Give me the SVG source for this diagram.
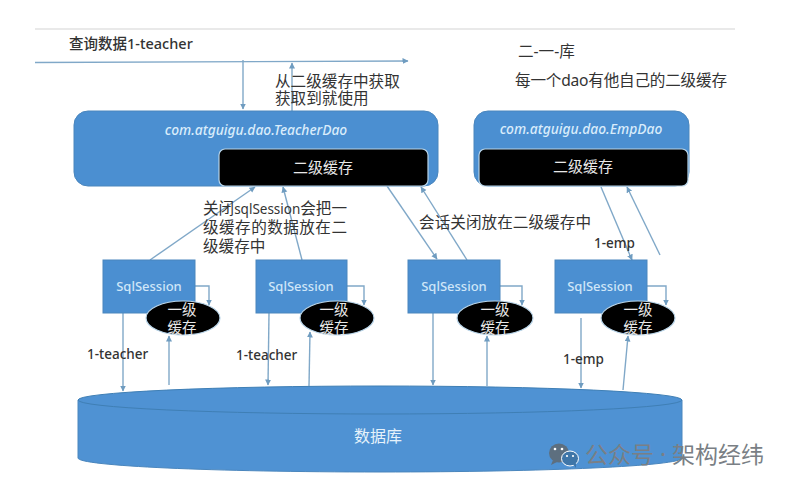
<svg xmlns="http://www.w3.org/2000/svg" width="790" height="487" viewBox="0 0 790 487">
<style>
text{font-family:"Noto Sans","Noto Sans CJK SC",sans-serif;}
.t{font-size:15.6px;fill:#333;}
.l{font-size:13.5px;fill:#333;font-weight:500;}
.c{font-size:13.8px;fill:#d9ecfb;font-style:italic;font-weight:500;text-anchor:middle;}
.w{font-size:15px;fill:#e8e8e8;text-anchor:middle;}
.e{font-size:14.5px;fill:#e8e8e8;text-anchor:middle;}
.s{font-size:13px;fill:#cfe6f8;text-anchor:middle;font-weight:500;}
.blue{fill:#4b8fd1;stroke:#4a86bd;stroke-width:1;}
.blk{fill:#000;stroke:#b8d4e8;stroke-width:1.2;}
.ln{fill:none;stroke:#80a8c8;stroke-width:1.4;marker-end:url(#a);}
</style>
<defs>
<marker id="a" markerWidth="7" markerHeight="7" refX="5.500" refY="3" orient="auto" markerUnits="userSpaceOnUse"><path d="M0,0L6,3L0,6Z" fill="#6f9cc0"/></marker>
</defs>
<rect width="790" height="487" fill="#fff"/>
<line x1="35" y1="29" x2="735" y2="29" stroke="#e2e2e2" stroke-width="1.5"/>
<g id="connectors">
<line class="ln" x1="35" y1="62.500" x2="408" y2="61"/>
<line class="ln" x1="243" y1="60" x2="243" y2="109"/>
<line class="ln" x1="292" y1="111" x2="292" y2="63"/>
<line class="ln" x1="150" y1="260" x2="255" y2="187"/>
<line class="ln" x1="302" y1="260" x2="283" y2="187"/>
<line class="ln" x1="387" y1="186" x2="437" y2="259"/>
<line class="ln" x1="467" y1="260" x2="421" y2="187"/>
<line class="ln" x1="601" y1="187" x2="632" y2="260"/>
<line class="ln" x1="660" y1="255" x2="627" y2="187"/>
<path class="ln" d="M195 286H209V305"/>
<path class="ln" d="M347 286H364V305"/>
<path class="ln" d="M500 286H522V305"/>
<path class="ln" d="M647 286H666V305"/>
<line class="ln" x1="123" y1="313" x2="123" y2="391"/>
<line class="ln" x1="169" y1="385" x2="169" y2="336"/>
<line class="ln" x1="269" y1="313" x2="268" y2="385"/>
<line class="ln" x1="309" y1="386" x2="310" y2="332"/>
<line class="ln" x1="433" y1="313" x2="433" y2="385"/>
<line class="ln" x1="487" y1="386" x2="487" y2="336"/>
<line class="ln" x1="581" y1="318" x2="581" y2="388"/>
<line class="ln" x1="623" y1="390" x2="628" y2="336"/>
</g>
<g id="teacher-dao">
<rect class="blue" x="74" y="111" width="364" height="75" rx="14"/>
<text class="c" x="256" y="135">com.atguigu.dao.TeacherDao</text>
</g>
<g id="teacher-cache">
<rect class="blk" x="219" y="149" width="209" height="37" rx="6"/>
<text class="w" x="323" y="173">二级缓存</text>
</g>
<g id="emp-dao">
<rect class="blue" x="474" y="111" width="215" height="75" rx="14"/>
<text class="c" x="581" y="134">com.atguigu.dao.EmpDao</text>
</g>
<g id="emp-cache">
<rect class="blk" x="479" y="149" width="209" height="37" rx="6"/>
<text class="w" x="583" y="172">二级缓存</text>
</g>
<g id="session-1">
<rect class="blue" x="103" y="260" width="92" height="53"/>
<text class="s" x="149" y="291">SqlSession</text>
<ellipse class="blk" cx="183" cy="318" rx="37" ry="17"/>
<text class="e" x="182" y="315">一级</text>
<text class="e" x="182" y="333">缓存</text>
</g>
<g id="session-2">
<rect class="blue" x="256" y="260" width="91" height="53"/>
<text class="s" x="301" y="291">SqlSession</text>
<ellipse class="blk" cx="337" cy="318" rx="37" ry="17"/>
<text class="e" x="334" y="315">一级</text>
<text class="e" x="334" y="333">缓存</text>
</g>
<g id="session-3">
<rect class="blue" x="408" y="260" width="92" height="53"/>
<text class="s" x="454" y="291">SqlSession</text>
<ellipse class="blk" cx="495" cy="318" rx="38" ry="17"/>
<text class="e" x="495" y="315">一级</text>
<text class="e" x="495" y="333">缓存</text>
</g>
<g id="session-4">
<rect class="blue" x="555" y="260" width="92" height="53"/>
<text class="s" x="600" y="291">SqlSession</text>
<ellipse class="blk" cx="638" cy="318" rx="37" ry="17"/>
<text class="e" x="638" y="315">一级</text>
<text class="e" x="638" y="333">缓存</text>
</g>
<g id="database">
<path d="M78 400V458C78 466 215 472 380 472S682 466 682 458V400Z" fill="#4f92d3" stroke="#4a86bd"/>
<ellipse cx="380" cy="400" rx="302" ry="14" fill="#4f92d3" stroke="#3f7fb5"/>
<text x="378" y="442" font-size="16" fill="#e6f2fb" text-anchor="middle">数据库</text>
</g>
<g id="labels">
<text class="l" x="69" y="49" style="font-size:14.5px">查询数据1-teacher</text>
<text class="t" x="275" y="87">从二级缓存中获取</text>
<text class="t" x="275" y="104">获取到就使用</text>
<text class="t" x="518" y="57">二-一-库</text>
<text class="t" x="515" y="86" textLength="212">每一个dao有他自己的二级缓存</text>
<text class="t" x="203" y="214" textLength="144">关闭<tspan style="font-size:13.5px">sqlSession</tspan>会把一</text>
<text class="t" x="203" y="233" textLength="144">级缓存的数据放在二</text>
<text class="t" x="203" y="252">级缓存中</text>
<text class="t" x="419" y="228" textLength="172">会话关闭放在二级缓存中</text>
<text class="l" x="594" y="248">1-emp</text>
<text class="l" x="87" y="359">1-teacher</text>
<text class="l" x="236" y="360">1-teacher</text>
<text class="l" x="563" y="364">1-emp</text>
</g>
<g id="watermark">
<ellipse cx="559" cy="453" rx="10" ry="9.500" fill="#5d6f7f"/>
<path d="M553 460l-2 5l6-3Z" fill="#5d6f7f"/>
<ellipse cx="570" cy="458.500" rx="8.500" ry="7.500" fill="#3f76a8" stroke="#fff" stroke-width="1"/>
<path d="M573 464l3 4l0-5Z" fill="#3f76a8"/>
<circle cx="555" cy="449" r="1.300" fill="#fff"/><circle cx="562" cy="449" r="1.300" fill="#fff"/>
<circle cx="567" cy="456" r="1.100" fill="#fff"/><circle cx="573" cy="456" r="1.100" fill="#fff"/>
<text x="585" y="463" font-size="23" fill="#7a7f85">公众号 · 架构经纬</text>
</g>
</svg>
